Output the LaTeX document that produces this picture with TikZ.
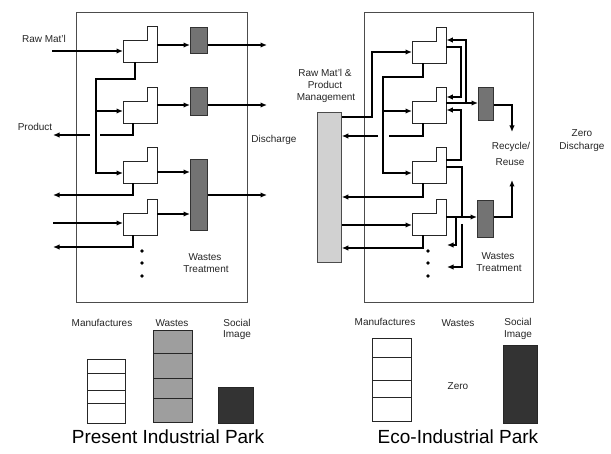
\documentclass[tikz,border=0pt]{standalone}
\usepackage{fontspec}
\setmainfont{Liberation Sans}
\usetikzlibrary{arrows.meta}
\newcommand{\procunit}[3]{%
  \node[unitbody] (#1) at (#2,#3) {};
  \draw[unitline] (#1.south west) -- (#1.north west) -- ([xshift=-10pt]#1.north east) -- ++(0,14pt) -- ++(10pt,0) -- (#1.south east) -- cycle;}
\begin{document}
\begin{tikzpicture}[x=1pt,y=-1pt,
  conn/.style={line width=1.3pt, -{Latex[length=6.5pt,width=5.5pt]}},
  wire/.style={line width=1.3pt},
  frame/.style={draw=black!70, line width=0.7pt, inner sep=0pt, anchor=north west},
  unitbody/.style={inner sep=0pt, minimum width=34pt, minimum height=22pt, anchor=north west},
  unitline/.style={draw=black!85, line width=0.8pt, fill=white},
  treat/.style={draw=black!80, line width=0.8pt, fill=black!55, inner sep=0pt, anchor=north west},
  lbl/.style={font=\fontsize{10}{11}\selectfont, inner sep=0pt, text=black!85},
  big/.style={font=\fontsize{19}{21}\selectfont, inner sep=0pt},
  dotm/.style={circle, fill=black, inner sep=0pt, minimum size=3.6pt},
  bar/.style={draw=black!85, line width=0.8pt},
]
\useasboundingbox (0,0) rectangle (611,454);
\fill[white] (0,0) rectangle (611,454);

% ---------- frames ----------
\node[frame, minimum width=171pt, minimum height=290pt] (parkL) at (76,12) {};
\node[frame, minimum width=169pt, minimum height=290pt] (parkR) at (364,12) {};

% ---------- LEFT: present industrial park ----------
\procunit{a1}{123}{40}
\procunit{a2}{123}{101}
\procunit{a3}{123}{161}
\procunit{a4}{123}{213}
\node[treat, minimum width=17pt, minimum height=26pt] (t1) at (190,27) {};
\node[treat, minimum width=17pt, minimum height=28pt] (t2) at (190,87) {};
\node[treat, minimum width=17pt, minimum height=71pt] (t3) at (190,159) {};

\coordinate (rawL) at (52,51);
\coordinate (dL1) at (267,45);
\coordinate (dL2) at (267,105);
\coordinate (dL3) at (267,195);
\coordinate (prodL) at (53,135);
\coordinate (outL3) at (53,195);
\coordinate (inL4) at (53,223);
\coordinate (outL4) at (53,247);

\draw[conn] (rawL) -- (a1.west |- 0,51);
\draw[conn] (a1.east |- 0,45) -- (t1.west |- 0,45);
\draw[conn] (t1.east |- 0,45) -- (dL1);
\draw[conn] (a2.east |- 0,105) -- (t2.west |- 0,105);
\draw[conn] (t2.east |- 0,105) -- (dL2);
\draw[conn] (a3.east |- 0,172) -- (t3.west |- 0,172);
\draw[conn] (a4.east |- 0,214) -- (t3.west |- 0,214);
\draw[conn] (t3.east |- 0,195) -- (dL3);
\draw[conn] (a1.south -| 135,0) -- (135,79) -- (96,79) -- (96,173) -- (a3.west |- 0,173);
\draw[conn] (96,111) -- (a2.west |- 0,111);
\draw[wire] (a2.south -| 133,0) -- (133,135) -- (100,135);
\draw[conn] (90,135) -- (prodL);
\draw[conn] (a3.south -| 133,0) -- (133,195) -- (outL3);
\draw[conn] (inL4) -- (a4.west |- 0,223);
\draw[conn] (a4.south -| 133,0) -- (133,247) -- (outL4);
\node[dotm] (dl1) at (142,251) {};
\node[dotm] (dl2) at (142,263) {};
\node[dotm] (dl3) at (142,276) {};

\node[lbl] (rawlbl) at (44,39) {Raw Mat'l};
\node[lbl] (prodlbl) at (35,127) {Product};
\node[lbl] (dislbl) at (274,140) {Discharge};
\node[lbl] (wtL1) at (205,257) {Wastes};
\node[lbl] (wtL2) at (206,269) {Treatment};

% ---------- RIGHT: eco-industrial park ----------
\node[draw=black!70, line width=0.8pt, fill=black!18, inner sep=0pt, anchor=north west,
      minimum width=24pt, minimum height=150pt] (mgmt) at (317,112) {};
\procunit{b1}{412}{41}
\procunit{b2}{412}{101}
\procunit{b3}{412}{161}
\procunit{b4}{412}{213}
\node[treat, minimum width=15pt, minimum height=33pt] (tA) at (478,87) {};
\node[treat, minimum width=16pt, minimum height=37pt] (tB) at (477,200) {};

\coordinate (rec1) at (447,245);
\coordinate (rec2) at (447,267);
\coordinate (reuseA) at (512,132);
\coordinate (reuseB) at (512,180);

\draw[conn] (mgmt.east |- 0,117) -- (372,117) -- (372,52) -- (b1.west |- 0,52);
\draw[conn] (b1.south -| 423,0) -- (423,77) -- (383,77) -- (383,173) -- (b3.west |- 0,173);
\draw[conn] (383,111) -- (b2.west |- 0,111);
\draw[wire] (b2.south -| 423,0) -- (423,136) -- (389,136);
\draw[conn] (378,136) -- (mgmt.east |- 0,136);
\draw[conn] (b3.south -| 423,0) -- (423,197) -- (mgmt.east |- 0,197);
\draw[conn] (mgmt.east |- 0,225) -- (b4.west |- 0,225);
\draw[conn] (b4.south -| 423,0) -- (423,248) -- (mgmt.east |- 0,248);

\draw[conn] (466,103) -- (466,40) -- (b1.east |- 0,40);
\draw[conn] (b1.east |- 0,47) -- (461,47) -- (461,97) -- (b2.east |- 0,97);
\draw[conn] (b2.east |- 0,103) -- (tA.west |- 0,103);
\draw[conn] (b3.east |- 0,160) -- (461,160) -- (461,110) -- (b2.east |- 0,110);
\draw[wire] (b3.east |- 0,167) -- (462,167) -- (462,217);
\draw[conn] (b4.east |- 0,217) -- (tB.west |- 0,217);
\draw[conn] (456,217) -- (456,245) -- (rec1);
\draw[conn] (462,224) -- (462,267) -- (rec2);
\draw[conn] (tA.east |- 0,105) -- (512,105) -- (reuseA);
\draw[conn] (tB.east |- 0,217) -- (512,217) -- (reuseB);
\node[dotm] (dr1) at (428,251) {};
\node[dotm] (dr2) at (428,263) {};
\node[dotm] (dr3) at (428,276) {};

\node[lbl] (m1) at (325,73) {Raw Mat'l \&};
\node[lbl] (m2) at (325,85) {Product};
\node[lbl] (m3) at (326,98) {Management};
\node[lbl] (rc1) at (511,147) {Recycle/};
\node[lbl] (rc2) at (510,162) {Reuse};
\node[lbl] (wtR1) at (498,256) {Wastes};
\node[lbl] (wtR2) at (499,268) {Treatment};
\node[lbl] (zd1) at (582,133) {Zero};
\node[lbl] (zd2) at (582,147) {Discharge};

% ---------- bottom comparison bars ----------
\node[lbl] (bl1) at (102,323) {Manufactures};
\node[lbl] (bl2) at (172,323) {Wastes};
\node[lbl] (bl3) at (237,323) {Social};
\node[lbl] (bl4) at (237,335) {Image};
\draw[bar, fill=white] (87,359) rectangle (125,423);
\draw[bar] (87,373) -- (125,373) (87,390) -- (125,390) (87,403) -- (125,403);
\draw[bar, fill=black!38] (153,330) rectangle (192,422);
\draw[bar] (153,353) -- (192,353) (153,378) -- (192,378) (153,398) -- (192,398);
\draw[bar, fill=black!80] (218,387) rectangle (253,423);

\node[lbl] (br1) at (385,322) {Manufactures};
\node[lbl] (br2) at (458,323) {Wastes};
\node[lbl] (br3) at (518,322) {Social};
\node[lbl] (br4) at (518,335) {Image};
\node[lbl] (br5) at (458,386) {Zero};
\draw[bar, fill=white] (372,338) rectangle (411,421);
\draw[bar] (372,357) -- (411,357) (372,380) -- (411,380) (372,397) -- (411,397);
\draw[bar, fill=black!80] (503,345) rectangle (537,423);

\node[big] (tl) at (168,437) {Present Industrial Park};
\node[big] (tr) at (458,437) {Eco-Industrial Park};
\end{tikzpicture}
\end{document}
